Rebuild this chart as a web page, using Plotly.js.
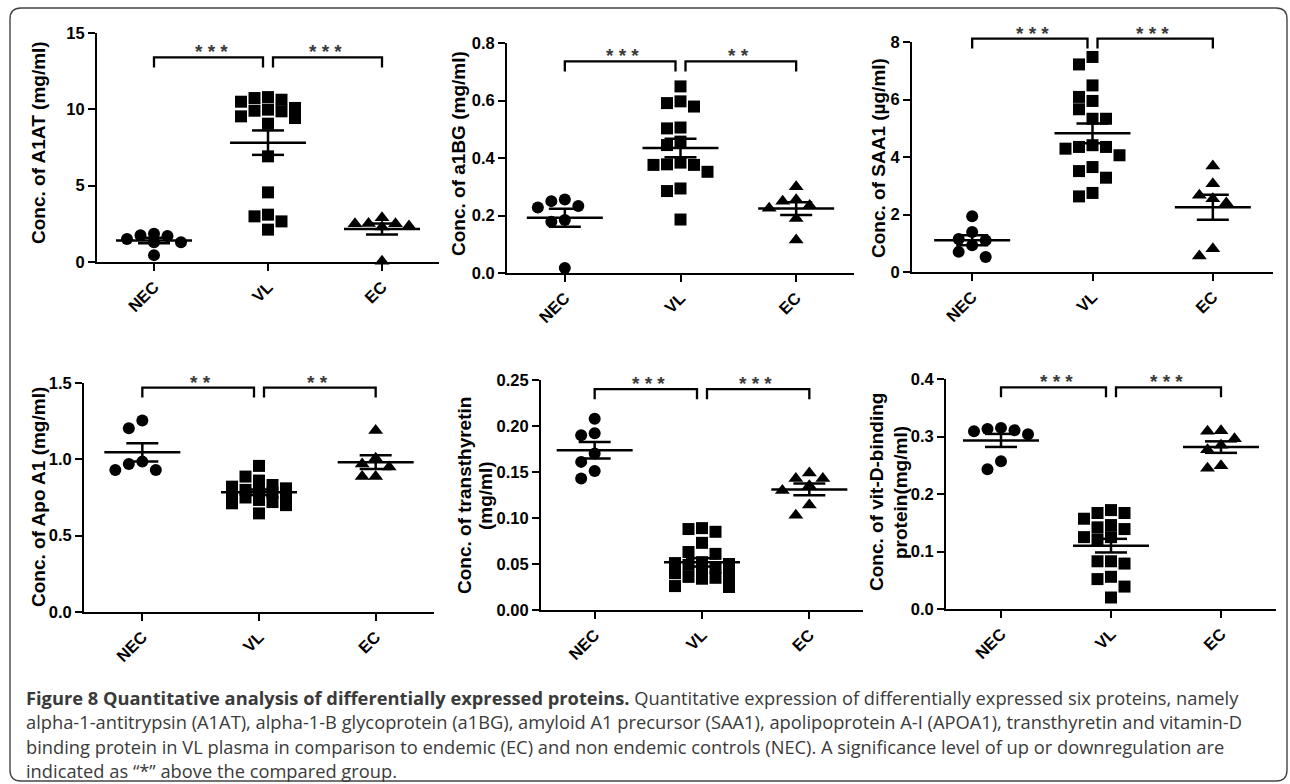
<!DOCTYPE html>
<html><head><meta charset="utf-8">
<script src="https://cdn.plot.ly/plotly-3.0.1.min.js"></script>
<style>html,body{margin:0;padding:0;background:#fff}#chart{width:1290px;height:784px}</style>
</head><body><div id="chart"></div>
<script>
// ---- data ----
const groups = ['NEC', 'VL', 'EC'];

const a1at_NEC = [1.85, 1.75, 1.70, 1.50, 1.30, 1.30, 0.45];
const a1at_VL  = [10.80, 10.74, 10.63, 10.50, 10.09, 9.98, 9.91, 9.87, 9.54, 9.43, 9.06, 6.92, 4.56, 3.10, 2.99, 2.66, 2.12];
const a1at_EC  = [2.90, 2.52, 2.50, 2.50, 2.35, 2.30, 0.05];

const a1bg_NEC = [0.256, 0.250, 0.233, 0.228, 0.184, 0.178, 0.017];
const a1bg_VL  = [0.649, 0.597, 0.591, 0.579, 0.506, 0.503, 0.457, 0.445, 0.384, 0.378, 0.376, 0.376, 0.352, 0.294, 0.285, 0.186];
const a1bg_EC  = [0.300, 0.255, 0.250, 0.235, 0.225, 0.190, 0.115];

const saa1_NEC = [1.94, 1.39, 1.15, 1.10, 0.93, 0.70, 0.52];
const saa1_VL  = [7.48, 7.22, 6.49, 6.09, 5.95, 5.66, 5.33, 5.33, 4.41, 4.35, 4.35, 4.29, 4.06, 3.65, 3.51, 3.28, 2.75, 2.63];
const saa1_EC  = [3.69, 3.07, 2.67, 2.55, 2.40, 0.81, 0.56];

const apoa1_NEC = [1.255, 1.204, 0.985, 0.970, 0.930, 0.930];
const apoa1_VL  = [0.957, 0.887, 0.861, 0.832, 0.821, 0.810, 0.800, 0.790, 0.780, 0.766, 0.760, 0.750, 0.734, 0.720, 0.712, 0.700, 0.646];
const apoa1_EC  = [1.189, 1.007, 0.970, 0.950, 0.887, 0.887];

const ttr_NEC = [0.208, 0.192, 0.190, 0.170, 0.161, 0.151, 0.143];
const ttr_VL  = [0.089, 0.088, 0.085, 0.073, 0.063, 0.061, 0.052, 0.051, 0.050, 0.049, 0.046, 0.044, 0.040, 0.037, 0.036, 0.035, 0.034, 0.026, 0.025];
const ttr_EC  = [0.149, 0.143, 0.143, 0.135, 0.130, 0.114, 0.103];

const vdbp_NEC = [0.315, 0.313, 0.311, 0.309, 0.304, 0.257, 0.243];
const vdbp_VL  = [0.172, 0.167, 0.167, 0.157, 0.146, 0.142, 0.139, 0.125, 0.125, 0.121, 0.083, 0.083, 0.079, 0.056, 0.052, 0.039, 0.020];
const vdbp_EC  = [0.310, 0.309, 0.296, 0.285, 0.277, 0.249, 0.245];

const yTitles = [
  ['Conc. of A1AT (mg/ml)'],
  ['Conc. of a1BG (mg/ml)'],
  ['Conc. of SAA1 (\u00b5g/ml)'],
  ['Conc. of Apo A1 (mg/ml)'],
  ['Conc. of transthyretin', '(mg/ml)'],
  ['Conc. of vit-D-binding', 'protein(mg/ml)']
];
const yMaxes  = [15, 0.8, 8, 1.5, 0.25, 0.4];
const yDticks = [5, 0.2, 2, 0.5, 0.05, 0.1];
const yFormats = ['d', '.1f', 'd', '.1f', '.2f', '.1f'];
const sigLeft  = ['***', '***', '***', '**', '***', '***'];
const sigRight = ['***', '**', '***', '**', '***', '***'];
const bracketLevels = [13.4, 0.736, 8.12, 1.47, 0.240, 0.3855];

const captionLines = [
  '<b>Figure 8 Quantitative analysis of differentially expressed proteins.</b> Quantitative expression of differentially expressed six proteins, namely',
  'alpha-1-antitrypsin (A1AT), alpha-1-B glycoprotein (a1BG), amyloid A1 precursor (SAA1), apolipoprotein A-I (APOA1), transthyretin and vitamin-D',
  'binding protein in VL plasma in comparison to endemic (EC) and non endemic controls (NEC). A significance level of up or downregulation are',
  'indicated as \u201c*\u201d above the compared group.'
];

const panelData = [
  [a1at_NEC, a1at_VL, a1at_EC],
  [a1bg_NEC, a1bg_VL, a1bg_EC],
  [saa1_NEC, saa1_VL, saa1_EC],
  [apoa1_NEC, apoa1_VL, apoa1_EC],
  [ttr_NEC, ttr_VL, ttr_EC],
  [vdbp_NEC, vdbp_VL, vdbp_EC]
];

// ---- layout geometry (pixels) ----
const W = 1290, H = 784;
const boxes = [ // [left, right, top, bottom]
  [97, 439, 33, 262],
  [507, 854, 43, 273],
  [912, 1273, 42, 272],
  [84, 434, 383, 612],
  [541, 863, 380, 610],
  [946, 1276, 379, 609]
];
const titlePos = [ // per line: [x, y]
  [[38, 143]],
  [[459, 154]],
  [[878, 158]],
  [[38, 497]],
  [[464, 496], [485, 496]],
  [[876, 492], [900, 493]]
];
const symbols = ['circle', 'square', 'triangle-up'];
const msizes = [12, 12, 13];
const FONT = 'Liberation Sans, Arial, Helvetica, sans-serif';

function mean(a) { return a.reduce((s, v) => s + v, 0) / a.length; }
function sem(a) {
  const m = mean(a);
  const v = a.reduce((s, x) => s + (x - m) * (x - m), 0) / (a.length - 1);
  return Math.sqrt(v / a.length);
}
function swarm(vals, pxPerY, colPx, ux, thr) {
  const order = vals.map((v, i) => i).sort((a, b) => vals[b] - vals[a]);
  const cand = [0, -1, 1, -2, 2];
  const placed = [];
  const off = new Array(vals.length);
  for (const i of order) {
    const y = vals[i] * pxPerY;
    let best = 0, bestGap = -1;
    for (const c of cand) {
      let gap = Infinity;
      for (const p of placed) if (p.col === c) gap = Math.min(gap, Math.abs(p.y - y));
      if (gap >= thr) { best = c; break; }
      if (gap > bestGap) { bestGap = gap; best = c; }
    }
    placed.push({ col: best, y: y });
    off[i] = best * colPx / ux;
  }
  return off;
}

const traces = [];
const layout = {
  width: W, height: H,
  margin: { l: 0, r: 0, t: 0, b: 0 },
  paper_bgcolor: '#fff', plot_bgcolor: '#fff',
  showlegend: false,
  font: { family: FONT, color: '#000' },
  shapes: [], annotations: []
};

panelData.forEach((grp, p) => {
  const k = p + 1;
  const xa = 'x' + (k === 1 ? '' : k), ya = 'y' + (k === 1 ? '' : k);
  const xk = 'xaxis' + (k === 1 ? '' : k), yk = 'yaxis' + (k === 1 ? '' : k);
  const [L, R, T, B] = boxes[p];
  const ux = (R - L) / 3;
  const pxPerY = (B - T) / yMaxes[p];
  const tickFont = { family: FONT, size: 16.5, weight: 700, color: '#000' };

  layout[xk] = {
    domain: [L / W, R / W], range: [-0.5, 2.5], anchor: ya,
    tickvals: [0, 1, 2], ticktext: groups, tickangle: -45,
    showline: true, linewidth: 2, linecolor: '#000', mirror: false,
    ticks: 'outside', ticklen: 7, tickwidth: 2, tickcolor: '#000',
    showgrid: false, zeroline: false, tickfont: tickFont, fixedrange: true
  };
  layout[yk] = {
    domain: [1 - B / H, 1 - T / H], range: [0, yMaxes[p]], anchor: xa,
    dtick: yDticks[p], tick0: 0, tickformat: yFormats[p],
    showline: true, linewidth: 2, linecolor: '#000',
    ticks: 'outside', ticklen: 7, tickwidth: 2, tickcolor: '#000',
    showgrid: false, zeroline: false, tickfont: tickFont, fixedrange: true
  };

  const lx = [], ly = [];
  grp.forEach((vals, g) => {
    const off = swarm(vals, pxPerY, 13.5, ux, 12);
    traces.push({
      type: 'scatter', mode: 'markers', xaxis: xa, yaxis: ya, cliponaxis: false,
      x: vals.map((v, i) => g + off[i]), y: vals,
      marker: { symbol: symbols[g], size: msizes[g], color: '#000', line: { width: 0 } },
      hoverinfo: 'y'
    });
    const m = mean(vals), s = sem(vals);
    const hw = 38 / ux, sw = 16 / ux;
    lx.push(g - hw, g + hw, null, g - sw, g + sw, null, g - sw, g + sw, null, g, g, null);
    ly.push(m, m, null, m + s, m + s, null, m - s, m - s, null, m - s, m + s, null);
  });
  traces.push({
    type: 'scatter', mode: 'lines', xaxis: xa, yaxis: ya, cliponaxis: false,
    x: lx, y: ly, line: { color: '#000', width: 2.5 }, hoverinfo: 'skip'
  });

  // significance brackets (domain refs so they are not clipped)
  const xr = xa + ' domain', yr = ya + ' domain';
  const fx = v => (v + 0.5) / 3;
  const lev = bracketLevels[p] / yMaxes[p];
  const drop = 10 / (B - T);
  const gap = 5 / ux;
  const segs = [[0, 1 - gap], [1 + gap, 2]];
  segs.forEach(([a, b]) => {
    layout.shapes.push({
      type: 'path', xref: xr, yref: yr,
      path: `M ${fx(a)},${lev - drop} L ${fx(a)},${lev} L ${fx(b)},${lev} L ${fx(b)},${lev - drop}`,
      line: { color: '#000', width: 2.3 }
    });
  });
  [[0.5, sigLeft[p]], [1.5, sigRight[p]]].forEach(([c, txt]) => {
    layout.annotations.push({
      xref: xr, yref: yr, x: fx(c), y: lev, yanchor: 'bottom', xanchor: 'center',
      yshift: -7, showarrow: false, text: txt.split('').join(' '),
      font: { family: FONT, size: 19, weight: 700, color: '#3a3a3a' }
    });
  });

  // axis titles
  yTitles[p].forEach((t, li) => {
    const [tx, ty] = titlePos[p][li];
    layout.annotations.push({
      xref: 'paper', yref: 'paper', x: tx / W, y: 1 - ty / H,
      xanchor: 'center', yanchor: 'middle', textangle: -90, showarrow: false,
      text: '<b>' + t + '</b>',
      font: { family: FONT, size: 19, color: '#000' }
    });
  });
});

// caption
const capY = [697, 721, 746, 770];
captionLines.forEach((t, i) => {
  layout.annotations.push({
    xref: 'paper', yref: 'paper', x: 24 / W, y: 1 - capY[i] / H,
    xanchor: 'left', yanchor: 'middle', showarrow: false, align: 'left',
    text: t, font: { family: 'Open Sans, sans-serif', size: 18.3, color: '#3a3a3a' }
  });
});

// rounded frame
(function () {
  const x0 = 10, x1 = 1287, y0 = 8, y1 = 781, r = 11;
  const X = v => v / W, Y = v => 1 - v / H;
  const path = `M ${X(x0 + r)},${Y(y0)} L ${X(x1 - r)},${Y(y0)} Q ${X(x1)},${Y(y0)} ${X(x1)},${Y(y0 + r)} ` +
    `L ${X(x1)},${Y(y1 - r)} Q ${X(x1)},${Y(y1)} ${X(x1 - r)},${Y(y1)} L ${X(x0 + r)},${Y(y1)} ` +
    `Q ${X(x0)},${Y(y1)} ${X(x0)},${Y(y1 - r)} L ${X(x0)},${Y(y0 + r)} Q ${X(x0)},${Y(y0)} ${X(x0 + r)},${Y(y0)} Z`;
  layout.shapes.push({ type: 'path', xref: 'paper', yref: 'paper', path: path, line: { color: '#444', width: 1.4 } });
})();

Plotly.newPlot('chart', traces, layout, { displayModeBar: false, staticPlot: true });
</script>
</body></html>
